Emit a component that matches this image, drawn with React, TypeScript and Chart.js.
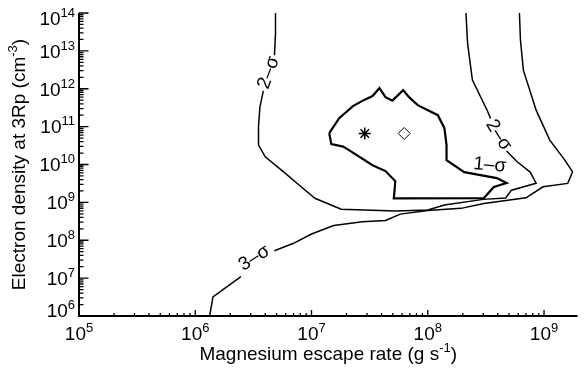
import React, { useEffect, useRef } from 'react';
import { Chart, registerables } from 'chart.js';

Chart.register(...registerables);

const FONT = '"Liberation Sans", Arial, Helvetica, sans-serif';

// ---- axes ----
const xRange = [1e5, 1.94e9];
const yRange = [1e6, 1e14];
const xMajorTicks = [1e5, 1e6, 1e7, 1e8, 1e9];
const xTickExponents = ['5', '6', '7', '8', '9'];
const yMajorTicks = [1e6, 1e7, 1e8, 1e9, 1e10, 1e11, 1e12, 1e13, 1e14];
const yTickExponents = ['6', '7', '8', '9', '10', '11', '12', '13', '14'];
const xTitleParts = ['Magnesium escape rate (g s', '-1', ')'];
const yTitleParts = ['Electron density at 3Rp (cm', '-3', ')'];

// ---- contours: [escape rate, electron density] ----
const oneSigma: number[][] = [
  [1.42e7, 6.7e10], [1.73e7, 1.67e11], [2.27e7, 3.48e11], [2.81e7, 5.0e11], [3.35e7, 6.4e11],
  [3.84e7, 1.04e12], [4.33e7, 6.0e11], [4.96e7, 4.85e11], [6.14e7, 9.2e11], [6.9e7, 6.0e11],
  [8.2e7, 3.69e11], [1.22e8, 2.01e11], [1.39e8, 9.1e10], [1.45e8, 3.25e10], [1.45e8, 1.31e10],
  [2.06e8, 6.3e9], [3.92e8, 4.38e9], [4.76e8, 3.23e9], [3.7e8, 2.54e9], [3.04e8, 1.3e9],
  [5.1e7, 1.28e9], [5.2e7, 2.38e9], [5.25e7, 3.65e9], [4.33e7, 6.7e9], [3.35e7, 9.6e9],
  [2.1e7, 2.4e10], [1.87e7, 2.96e10], [1.48e7, 3.45e10], [1.42e7, 6.7e10],
];

const twoSigmaTop: number[][] = [[4.9e6, 1e14], [4.9e6, 2.9e13], [4.8e6, 7.7e12]];
const twoSigmaMain: number[][] = [
  [3.85e6, 8.8e11], [3.6e6, 3.3e11], [3.5e6, 9.9e10], [3.5e6, 3.25e10], [4.0e6, 1.6e10],
  [5.75e6, 6.4e9], [7.5e6, 3.2e9], [1.07e7, 1.28e9], [1.8e7, 6.6e8], [5.25e7, 5.9e8],
  [1.0e8, 6.3e8], [1.39e8, 8.5e8], [3.0e8, 1.2e9], [4.67e8, 1.3e9], [5.25e8, 2.1e9],
  [8.55e8, 3.2e9], [7.6e8, 6.3e9], [5.9e8, 1.16e10], [4.76e8, 2.26e10],
];
const twoSigmaRight: number[][] = [
  [3.47e8, 1.64e11], [3.24e8, 2.7e11], [2.42e8, 1.7e12], [2.2e8, 1.57e13], [2.13e8, 1e14],
];

const threeSigmaLow: number[][] = [[1.33e6, 1e6], [1.42e6, 3.2e6], [2.47e6, 1.09e7]];
const threeSigmaMain: number[][] = [
  [4.79e6, 5.3e7], [7.0e6, 8.3e7], [1.0e7, 1.46e8], [1.55e7, 2.44e8], [2.74e7, 3.08e8],
  [4.33e7, 3.31e8], [5.8e7, 4.9e8], [1.0e8, 6.1e8], [1.93e8, 6.95e8], [3.04e8, 9.4e8],
  [7.0e8, 1.32e9], [9.8e8, 2.58e9], [1.6e9, 3.17e9], [1.76e9, 6.4e9], [1.51e9, 1.31e10],
  [1.12e9, 4.4e10], [8.55e8, 2.72e11], [6.64e8, 3.1e12], [6.27e8, 1.9e13], [6.14e8, 1e14],
];

// ---- markers ----
const bestFit: number[][] = [[2.87e7, 6.6e10]];
const altFit: number[][] = [[6.27e7, 6.6e10]];

// ---- contour labels ----
const contourLabelText = ['2\u2013\u03C3', '2\u2013\u03C3', '1\u2013\u03C3', '3\u2013\u03C3'];
const contourLabelX = [4.28e6, 4.07e8, 3.42e8, 3.22e6];
const contourLabelY = [2.66e12, 5.97e10, 9.6e9, 3.39e7];

const toPts = (a: number[][]) => a.map(([x, y]) => ({ x, y }));

export default function App() {
  const ref = useRef<HTMLCanvasElement | null>(null);

  useEffect(() => {
    document.body.style.margin = '0';
    document.body.style.background = '#fff';
    const canvas = ref.current;
    if (!canvas) return;

    const lineDs = (pts: number[][], w: number) => ({
      data: toPts(pts),
      showLine: true,
      borderColor: '#000',
      borderWidth: w,
      pointRadius: 0,
      fill: false,
      tension: 0,
    });

    const labelAngles = [-70, 58, 5, -32];
    const MAIN = `19px ${FONT}`;
    const SUP = `13px ${FONT}`;

    const drawPow = (ctx: CanvasRenderingContext2D, parts: string[], x: number, y: number, align: string) => {
      // parts alternate normal / superscript
      const widths = parts.map((p, i) => {
        ctx.font = i % 2 === 1 ? SUP : MAIN;
        return ctx.measureText(p).width;
      });
      const total = widths.reduce((a, b) => a + b, 0);
      let cx = align === 'center' ? x - total / 2 : align === 'right' ? x - total : x;
      ctx.textAlign = 'left';
      ctx.textBaseline = 'alphabetic';
      parts.forEach((p, i) => {
        ctx.font = i % 2 === 1 ? SUP : MAIN;
        ctx.fillText(p, cx, i % 2 === 1 ? y - 8 : y);
        cx += widths[i];
      });
    };

    const axesPlugin = {
      id: 'idlAxes',
      afterDraw(chart: any) {
        const ctx: CanvasRenderingContext2D = chart.ctx;
        const xs = chart.scales.x;
        const ys = chart.scales.y;
        const { left, right, top, bottom } = chart.chartArea;
        ctx.save();
        ctx.strokeStyle = '#000';
        ctx.fillStyle = '#000';
        ctx.lineCap = 'butt';

        // axis lines
        ctx.lineWidth = 2;
        ctx.beginPath();
        ctx.moveTo(left, top);
        ctx.lineTo(left, bottom);
        ctx.lineTo(right, bottom);
        ctx.stroke();

        // ticks
        ctx.lineWidth = 1.3;
        ctx.beginPath();
        xMajorTicks.forEach((v) => {
          for (let m = 1; m <= 9; m++) {
            const val = v * m;
            if (val < xRange[0] || val > xRange[1]) continue;
            const px = xs.getPixelForValue(val);
            const len = m === 1 ? 6 : 3;
            ctx.moveTo(px, bottom);
            ctx.lineTo(px, bottom - len);
          }
        });
        yMajorTicks.forEach((v) => {
          for (let m = 1; m <= 9; m++) {
            const val = v * m;
            if (val < yRange[0] || val > yRange[1]) continue;
            const py = ys.getPixelForValue(val);
            const len = m === 1 ? 9.5 : 4.5;
            ctx.moveTo(left, py);
            ctx.lineTo(left + len, py);
          }
        });
        ctx.stroke();

        // tick labels
        xMajorTicks.forEach((v, i) => {
          const px = xs.getPixelForValue(v);
          drawPow(ctx, ['10', xTickExponents[i]], px, bottom + 24, 'center');
        });
        yMajorTicks.forEach((v, i) => {
          let py = ys.getPixelForValue(v);
          py = Math.max(top + 5, Math.min(bottom - 6, py));
          drawPow(ctx, ['10', yTickExponents[i]], left - 4, py + 6.8, 'right');
        });

        // axis titles
        drawPow(ctx, xTitleParts, (left + right) / 2, 360, 'center');
        ctx.save();
        ctx.translate(24.5, (top + bottom) / 2);
        ctx.rotate(-Math.PI / 2);
        drawPow(ctx, yTitleParts, 0, 0, 'center');
        ctx.restore();

        // contour labels
        contourLabelText.forEach((t, i) => {
          const px = xs.getPixelForValue(contourLabelX[i]);
          const py = ys.getPixelForValue(contourLabelY[i]);
          ctx.save();
          ctx.translate(px, py);
          ctx.rotate((labelAngles[i] * Math.PI) / 180);
          ctx.font = MAIN;
          ctx.textAlign = 'center';
          ctx.textBaseline = 'middle';
          ctx.fillText(t, 0, 0);
          ctx.restore();
        });
        ctx.restore();
      },
    };

    const chart = new Chart(canvas, {
      type: 'scatter',
      data: {
        datasets: [
          lineDs(oneSigma, 2.2),
          lineDs(twoSigmaTop, 1.5),
          lineDs(twoSigmaMain, 1.5),
          lineDs(twoSigmaRight, 1.5),
          lineDs(threeSigmaLow, 1.5),
          lineDs(threeSigmaMain, 1.5),
          {
            data: toPts(bestFit),
            pointStyle: 'star',
            pointRadius: 6,
            borderColor: '#000',
            borderWidth: 1.5,
            backgroundColor: '#000',
          },
          {
            data: toPts(altFit),
            pointStyle: 'rectRot',
            pointRadius: 6,
            borderColor: '#000',
            borderWidth: 1,
            backgroundColor: 'rgba(0,0,0,0)',
          },
        ] as any,
      },
      options: {
        animation: false,
        responsive: false,
        events: [],
        layout: { padding: { left: 79, right: 0, top: 13, bottom: 53 } },
        scales: {
          x: { type: 'logarithmic', min: xRange[0], max: xRange[1], display: false },
          y: { type: 'logarithmic', min: yRange[0], max: yRange[1], display: false },
        },
        plugins: { legend: { display: false }, tooltip: { enabled: false } },
      } as any,
      plugins: [axesPlugin],
    });
    return () => chart.destroy();
  }, []);

  return (
    <div style={{ width: 585, height: 369, background: '#fff' }}>
      <canvas ref={ref} width={585} height={369} style={{ display: 'block', width: 585, height: 369 }} />
    </div>
  );
}
